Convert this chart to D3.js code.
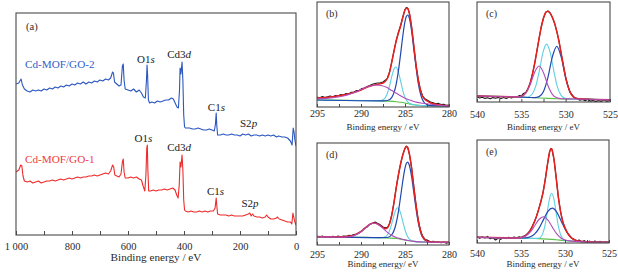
<!DOCTYPE html>
<html><head><meta charset="utf-8">
<script src="https://cdn.jsdelivr.net/npm/d3@7"></script>
<style>body{margin:0;background:#fff}svg{display:block}text{font-family:"Liberation Serif","Times New Roman",serif}</style>
</head><body><svg id="c" width="618" height="273"></svg>
<script>
// ---------------- DATA ----------------
// Survey spectra: [binding energy (eV), intensity (a.u.)]
const surveyGO2 = [[1000,75.5],[990,76],[982,78],[977,75],[970,73],[960,72],[950,71.5],[940,72.5],[930,72],[920,72.5],[910,72],[900,73],[890,72.5],[880,73.5],[870,73],[860,74],[850,73.5],[840,74.5],[830,74],[820,75],[810,74.5],[800,75.5],[790,75],[780,76],[770,75.5],[760,76.5],[750,75.5],[740,76.5],[730,76],[720,77],[710,76.5],[700,77.5],[690,77],[680,78],[670,77.5],[662,78.5],[655,81.5],[652,81],[648,76.5],[640,75.5],[632,74.5],[625,75],[620,84.5],[617,85.5],[614,77.5],[610,73],[600,72.5],[590,72],[580,73],[570,71.5],[560,72.5],[552,71],[545,69],[538,68.5],[534,77.5],[532,85],[530,80],[527,67.5],[523,66],[515,66.5],[505,66],[495,67],[485,66.5],[475,67],[465,67.5],[455,67.5],[445,68.5],[438,68],[430,65.5],[425,64],[420,63.5],[416,72.5],[414,83.5],[411,80.5],[407,86.5],[404,77.5],[401,60],[398,54],[395,53.5],[390,53.5],[380,53.5],[370,53],[360,53],[350,53.5],[340,53],[330,52.5],[320,52.5],[310,53],[300,52.5],[292,52],[288,55],[285,61],[283,55],[280,50],[270,50],[260,50.5],[250,50],[240,50],[230,50.5],[220,50],[210,50],[200,49.5],[190,50.5],[180,50],[170,50.5],[160,49.5],[150,50],[140,50],[130,49.5],[120,50],[110,49.5],[100,50],[90,49.5],[80,50],[70,49],[62,49.5],[50,49],[40,49],[30,48.5],[20,47],[14,45],[10,53.5],[7,51.5],[4,47.5],[0,44.5]];
const surveyGO1 = [[1000,31.5],[990,32.5],[983,35],[979,34.5],[975,29.5],[970,27],[960,26.5],[950,27],[940,26],[930,26.5],[920,27],[910,26],[900,26.5],[890,27],[880,27],[870,27.5],[860,27],[850,27.5],[840,28],[830,27.5],[820,28],[810,28.5],[800,28],[790,28.5],[780,29],[770,28.5],[760,29],[750,29],[740,29.5],[730,29.5],[720,30],[710,29.5],[700,30],[690,30.5],[680,31],[670,30.5],[662,32],[655,35],[651,34],[647,30],[640,29.5],[632,29],[625,30.5],[620,36.5],[617,38],[614,31.5],[610,28.5],[600,28.5],[590,29],[580,28.5],[570,29],[560,28],[552,27.5],[546,24.5],[540,22],[536,30],[533,43.5],[531,45],[529,32.5],[526,22],[520,22],[510,22.5],[500,22],[490,22.5],[480,22.5],[470,23],[460,22.5],[450,23],[440,23.5],[432,22.5],[426,20],[421,18.5],[417,25],[414,36.5],[411,34],[407,40],[404,32.5],[401,17.5],[398,12.5],[395,12],[385,11.5],[375,12],[365,11.5],[355,11.5],[345,12],[335,11.5],[325,12],[315,11.5],[305,12],[295,12],[289,13.5],[285,18.5],[283,15],[280,10.5],[270,10],[260,10],[250,10],[240,9.5],[230,10],[220,9.5],[210,9.5],[200,9.5],[190,9.5],[180,10],[170,10.5],[165,11],[160,9.5],[155,10.5],[150,9.5],[140,9],[130,9],[120,8.5],[110,9],[105,10],[100,9],[90,8],[80,8],[70,8.5],[66,9],[60,8],[50,7.5],[40,7],[30,6.5],[20,6.5],[15,5.5],[11,11],[8,9],[4,6.5],[0,5]];
const surveyTickValues = [0,100,200,300,400,500,600,700,800,900,1000];
const surveyTickLabels = ["0","","200","","400","","600","","800","","1 000"];
const sampleNames = ["Cd-MOF/GO-2","Cd-MOF/GO-1"];

// (b) C1s, Cd-MOF/GO-2
const bData = [[295,10],[294.7,9],[294.4,10.5],[294.1,9.5],[293.8,10.2],[293.5,11],[293.2,10],[292.9,11.5],[292.6,11],[292.3,12.5],[292,12],[291.7,13.5],[291.4,13],[291.1,14.8],[290.8,15],[290.5,16.5],[290.2,16.5],[289.9,18.5],[289.6,19],[289.3,20.5],[289,21.5],[288.7,22.8],[288.4,23.5],[288.1,24],[287.8,24.2],[287.5,25],[287.2,27],[287,29],[286.75,35],[286.5,45.5],[286.25,56],[286,66.5],[285.75,74.5],[285.5,81.5],[285.25,90],[285,97.5],[284.85,99.5],[284.7,99],[284.5,94],[284.25,80],[284,61],[283.75,42],[283.5,28],[283.25,17.5],[283,11],[282.7,8],[282.4,6.5],[282.1,5],[281.8,4.2],[281.5,3.2],[281.2,3.6],[280.9,2.4],[280.6,2.8],[280.3,1.6],[280,2]];
const bFit = [[295,9],[294,9.6],[293,10.5],[292,12],[291,14],[290,17],[289.4,19.5],[288.8,21.3],[288.2,22.5],[287.7,23.5],[287.5,24],[287,28.5],[286.75,35],[286.5,45],[286.25,56],[286,66],[285.75,74],[285.5,81],[285.25,89.5],[285,97],[284.85,98.8],[284.7,98.5],[284.5,93.5],[284.25,80],[284,61.5],[283.75,42.5],[283.5,27.5],[283.25,17],[283,10.5],[282.5,6],[282,3.8],[281,2],[280,1.2]];
const bCC = [[295,7],[288,6.2],[287.5,6.2],[287,6.5],[286.5,9.7],[286,22.9],[285.75,36],[285.5,52.9],[285.25,71],[285,85.6],[284.85,90.5],[284.7,92],[284.5,88.6],[284.25,76],[284,57.8],[283.75,40],[283.5,24.1],[283.25,13.5],[283,7],[282.5,2.2],[282,1.3],[280,1]];
const bCO = [[295,7],[288,6.2],[287.5,7.2],[287,13.8],[286.75,21.3],[286.5,30.6],[286.25,38],[286.05,40],[285.75,34.9],[285.5,25.8],[285.25,16.4],[285,9.6],[284.75,5.6],[284.5,3.7],[284,2.2],[283,1.4],[280,1]];
const bOCO = [[295,8],[294,8.6],[293,9.5],[292,11],[291.3,12.7],[290.5,15.5],[289.7,18.7],[289,21],[288.3,22],[287.6,21.3],[287.1,19.7],[286.5,16.5],[285.8,12.7],[285.3,10.2],[284.8,8],[284.3,6.5],[283.9,5.3],[283,3.8],[282,2.7],[281,1.6],[280,1]];
const bBase = [[295,7],[290,6.5],[288,6.2],[287,5.9],[286,5.3],[285.5,4.7],[285,3.9],[284.5,3],[284,2.2],[283.5,1.7],[283,1.4],[282,1.2],[280,1]];

// (c) O1s, Cd-MOF/GO-2
const cData = [[540,5],[539.7,4],[539.4,4.8],[539.1,3.6],[538.8,4.2],[538.5,3.2],[538.2,4.4],[537.9,3.8],[537.6,4.6],[537.3,3.4],[537,4.5],[536.7,3.6],[536.4,4.8],[536.1,4],[535.8,5.5],[535.5,5],[535.2,6.5],[535,6.2],[534.75,8.5],[534.5,9.5],[534.25,13.5],[534,19],[533.75,28],[533.5,38],[533.25,51],[533,63.5],[532.75,75.5],[532.5,84],[532.25,89.8],[532,91],[531.75,89],[531.5,84.5],[531.25,78.8],[531,70.5],[530.75,60.8],[530.5,48],[530.25,36.3],[530,24.5],[529.75,16.3],[529.5,9.5],[529.25,6.8],[529,4],[528.7,3.5],[528.4,1.8],[528.1,2.6],[527.8,1.2],[527.5,2.8],[527.2,0.8],[526.9,1.6],[526.6,0.2],[526.3,1.5],[526,0.4],[525.7,2.2],[525.4,0.6],[525,1.5]];
const cFit = [[540,6],[538,5.6],[536,5.2],[535.5,5.15],[535,5.8],[534.5,9.1],[534.25,13],[534,19.1],[533.75,27.7],[533.5,38.5],[533.25,50.6],[533,63.4],[532.75,75],[532.5,84],[532.25,89.4],[532,90.7],[531.75,88.9],[531.5,84.7],[531.25,78.6],[531,70.6],[530.75,60.4],[530.5,48.4],[530.25,36],[530,24.7],[529.75,15.9],[529.5,9.9],[529.25,6.3],[529,4.4],[528.5,3.2],[528,2.9],[525,2.2]];
const cP1 = [[540,6],[535,4.9],[534,4.5],[533.5,4.45],[533,5.4],[532.5,10.6],[532,24.7],[531.5,45.2],[531,55.6],[530.5,44.9],[530,24.2],[529.5,9.9],[529,4.4],[528.5,3.2],[528,2.9],[525,2.2]];
const cP2 = [[540,6],[535,4.9],[534.55,4.6],[534.15,5.35],[533.75,8.3],[533.35,16.6],[532.95,32.2],[532.55,49.9],[532.15,57.9],[531.75,49.6],[531.35,31.6],[530.95,15.7],[530.55,7.1],[530.15,4],[529.75,3],[528,2.9],[525,2.2]];
const cP3 = [[540,6],[536,5.2],[535.5,5.15],[535,5.76],[534.5,8.9],[534,17.4],[533.5,29.75],[533,36],[532.5,29.3],[532,16.5],[531.5,7.65],[531,4.2],[530.5,3.3],[529,3],[525,2.2]];
const cBase = [[540,6],[538,5.6],[536,5.2],[535,4.9],[534,4.5],[533,4],[532,3.6],[531,3.3],[530,3.1],[529,3],[527,2.6],[525,2.2]];

// (d) C1s, Cd-MOF/GO-1
const dData = [[295,8.8],[294.7,7.6],[294.4,8.9],[294.1,7.8],[293.8,8.5],[293.5,7.4],[293.2,8.8],[292.9,8],[292.6,8.9],[292.3,7.9],[292,9],[291.7,8.6],[291.4,9.6],[291.1,9.4],[290.8,10.5],[290.5,11],[290.2,12.6],[289.9,13.8],[289.6,16.5],[289.3,18],[289,20.8],[288.7,21.7],[288.4,23],[288.1,21.6],[287.8,20.2],[287.5,18],[287.25,17.2],[287,17.6],[286.75,21.5],[286.5,30.3],[286.25,42.6],[286,57.3],[285.75,70.2],[285.5,81.3],[285.25,90.4],[285,96.8],[284.85,98.9],[284.7,97.6],[284.5,90.8],[284.25,77.3],[284,58.4],[283.75,40.5],[283.5,25.4],[283.25,15],[283,8.9],[282.7,5.4],[282.4,4.6],[282.1,3.2],[281.8,3.8],[281.5,2.6],[281.2,3.1],[280.9,2.2],[280.6,2.9],[280.3,1.8],[280,2.5]];
const dFit = [[295,8.5],[293,8.2],[292,8.3],[291,9.2],[290.5,10.8],[290,13.6],[289.5,17.4],[289,20.6],[288.5,21.9],[288,20.4],[287.75,18.9],[287.5,17.3],[287.25,16.3],[287,17.2],[286.75,21.5],[286.5,30],[286.25,42.5],[286,57],[285.75,70],[285.5,81],[285.25,90],[285,96.5],[284.85,98.5],[284.7,97.5],[284.5,91],[284.25,77],[284,58],[283.75,40],[283.5,25],[283.25,14.5],[283,8.3],[282.5,3.9],[282,3],[280,2.7]];
const dCC = [[295,8.3],[288,7.4],[287,7.5],[286.5,10.25],[286,22],[285.75,33.4],[285.5,48.3],[285.25,64],[285,76.9],[284.85,81.4],[284.7,82.8],[284.5,79.5],[284.25,68.3],[284,52.5],[283.75,36.4],[283.5,22.9],[283.25,13.5],[283,7.9],[282.5,3.7],[282,3],[280,2.7]];
const dCO = [[295,8.3],[288,7.4],[287.78,7.4],[287.28,8.1],[286.78,13.9],[286.53,20.7],[286.28,28.8],[286.03,35.5],[285.83,37.3],[285.53,32.8],[285.28,24.4],[285.03,16],[284.78,9.7],[284.53,6.2],[284.28,4.6],[284,3.6],[283,3],[280,2.7]];
const dOCO = [[295,8.3],[293,8.05],[292,8],[291.5,8.2],[291,8.9],[290.5,10.5],[290,13.3],[289.5,17.1],[289,20.4],[288.5,21.7],[288,20.2],[287.5,16.6],[287,12.6],[286.5,9.5],[286,7.6],[285.5,6.3],[285,5.1],[284.5,4.2],[284,3.6],[283,3],[280,2.7]];
const dBase = [[295,8.3],[290,7.8],[288,7.4],[287,7],[286,6.5],[285.5,5.9],[285,5],[284.5,4.2],[284,3.6],[283.5,3.2],[283,3],[282,2.9],[280,2.7]];

// (e) O1s, Cd-MOF/GO-1
const eData = [[540,6.5],[539.7,4.8],[539.4,6.2],[539.1,5],[538.8,6.6],[538.5,4.2],[538.2,5.5],[537.9,3],[537.6,4.8],[537.3,3.6],[537,5.6],[536.7,4.4],[536.4,5.8],[536.1,4.6],[535.8,5.9],[535.5,5.3],[535.2,6.2],[535,5.4],[534.75,6.8],[534.5,7.6],[534.25,9.6],[534,12.2],[533.75,16.2],[533.5,21],[533.25,26.3],[533,33.6],[532.75,41.4],[532.5,50.2],[532.25,63.3],[532,78],[531.75,91.2],[531.6,94.6],[531.5,94],[531.25,83.5],[531,65.2],[530.75,45.4],[530.5,31.4],[530.25,21.1],[530,15.3],[529.75,10.4],[529.5,7.6],[529.25,4.8],[529,3.9],[528.7,2.1],[528.4,3],[528.1,1],[527.8,2.4],[527.5,0.6],[527.2,1.9],[526.9,0.3],[526.6,2],[526.3,0.8],[526,1.6],[525.7,0.4],[525.4,1.2],[525,0.5]];
const eFit = [[540,5.7],[537,5.2],[536,5],[535.5,5.1],[535,5.5],[534.5,7.2],[534,11.7],[533.5,20.5],[533.25,26.5],[533,33.3],[532.75,41],[532.5,50.5],[532.25,62.9],[532,78.3],[531.75,91],[531.6,94.3],[531.5,93.9],[531.25,83.7],[531,64.9],[530.75,45.7],[530.5,31.1],[530.25,21.4],[530,15],[529.5,7.3],[529,3.5],[528.5,2],[528,1.4],[527,1],[525,0.7]];
const eP1 = [[540,5.7],[535.5,5],[534.94,5],[534.44,5.2],[533.94,6.2],[533.44,9.1],[532.94,14.9],[532.44,23.4],[531.94,31.6],[531.44,34.8],[530.94,30.9],[530.44,22.1],[529.94,13],[529.44,6.6],[528.94,3.2],[528.44,1.9],[527.94,1.4],[525,0.7]];
const eP2 = [[540,5.7],[535,4.9],[533.26,4.6],[533.01,4.8],[532.76,6],[532.51,9.9],[532.26,18.2],[532.01,31.2],[531.76,44.2],[531.51,49.7],[531.26,43.8],[531.01,30.5],[530.76,17.2],[530.51,8.5],[530.26,4.3],[530.01,2.8],[529.76,2.3],[528,1.3],[525,0.7]];
const eP3 = [[540,5.7],[536,5],[535.46,5],[534.96,5.5],[534.46,7],[533.96,10.8],[533.46,17],[532.96,23.5],[532.46,26.3],[531.96,23.1],[531.46,16.1],[530.96,9.3],[530.46,5],[529.96,3],[529.46,2.1],[528,1.3],[525,0.7]];
const eBase = [[540,5.7],[537,5.2],[535,4.9],[534,4.7],[533,4.4],[532,3.9],[531.5,3.6],[531,3.2],[530,2.4],[529,1.7],[528,1.3],[527,1],[525,0.7]];

const c1sTickValues = [295,292.5,290,287.5,285,282.5,280];
const c1sTickLabels = ["295","","290","","285","","280"];
const o1sTickValues = [540,537.5,535,532.5,530,527.5,525];
const o1sTickLabels = ["540","","535","","530","","525"];

// ---------------- DRAWING ----------------
const svg = d3.select("#c");
const COL = {data:"#1a1a1a", fit:"#e8211f", p1:"#2048b0", p2:"#5fd0e0", p3:"#b04cb8", base:"#5cc24a", frame:"#4a4a4a", text:"#2a2a2a"};
let clipId = 0;

function panel(box, xDom, yDom, series, tickVals, tickLabs, o) {
  const x = d3.scaleLinear().domain(xDom).range([box.x0, box.x1]);
  const y = d3.scaleLinear().domain(yDom).range([box.y1, box.y0]);
  const g = svg.append("g");
  const id = "clip" + (clipId++);
  g.append("clipPath").attr("id", id).append("rect")
    .attr("x", box.x0).attr("y", box.y0).attr("width", box.x1 - box.x0).attr("height", box.y1 - box.y0);
  const plot = g.append("g").attr("clip-path", `url(#${id})`);
  series.forEach(s => {
    plot.append("path").datum(s.data)
      .attr("fill", "none").attr("stroke", s.color).attr("stroke-width", s.w)
      .attr("stroke-linejoin", "round")
      .attr("d", d3.line().x(d => x(d[0])).y(d => y(d[1])).curve(s.curve || d3.curveLinear));
  });
  const labMap = new Map(tickVals.map((v, i) => [v, tickLabs[i]]));
  const ax = g.append("g").attr("transform", `translate(0,${box.y1})`)
    .call(d3.axisBottom(x).tickValues(tickVals).tickSizeInner(-o.tick).tickSizeOuter(0)
      .tickFormat(v => labMap.get(v)));
  ax.select(".domain").remove();
  ax.selectAll(".tick line").attr("stroke", COL.frame).attr("stroke-width", 1);
  ax.selectAll(".tick text").attr("y", o.labOff).attr("dy", null)
    .attr("fill", COL.text).style("font-size", o.tickFs + "px")
    .style("font-family", '"Liberation Serif","Times New Roman",serif');
  g.append("rect").attr("x", box.x0).attr("y", box.y0)
    .attr("width", box.x1 - box.x0).attr("height", box.y1 - box.y0)
    .attr("fill", "none").attr("stroke", COL.frame).attr("stroke-width", 1.1);
  g.append("text").attr("x", (box.x0 + box.x1) / 2).attr("y", box.y1 + o.titleOff)
    .attr("text-anchor", "middle").attr("fill", COL.text).style("font-size", o.titleFs + "px")
    .text(o.title);
  g.append("text").attr("x", box.x0 + o.tagDx).attr("y", box.y0 + o.tagDy)
    .attr("fill", COL.text).style("font-size", o.tagFs + "px").text(o.tag);
  return {x, y, g};
}

// Panel (a)
const A = panel({x0:16, x1:296, y0:13, y1:235}, [1000, 0], [0, 111],
  [{data: surveyGO2, color:"#2b57c0", w:1.1}, {data: surveyGO1, color:"#ee2b2b", w:1.1}],
  surveyTickValues, surveyTickLabels,
  {tick:4, labOff:14.5, tickFs:10.5, titleOff:26, titleFs:11.2, title:"Binding energy / eV", tagDx:10, tagDy:17, tagFs:10.5, tag:"(a)"});

function peakLabel(px, py, main, ital, color) {
  const t = A.g.append("text").attr("x", px).attr("y", py).attr("fill", color).style("font-size", "11px");
  t.append("tspan").text(main);
  t.append("tspan").style("font-style", "italic").text(ital);
}
// peak annotations anchored in data coordinates (energy, intensity)
const xA = A.x, yA = A.y;
peakLabel(xA(568), yA(86), "O1", "s", "#1a1a1a");
peakLabel(xA(460), yA(88.5), "Cd3", "d", "#1a1a1a");
peakLabel(xA(315), yA(62), "C1", "s", "#1a1a1a");
peakLabel(xA(200), yA(54), "S2", "p", "#1a1a1a");
peakLabel(xA(577), yA(46.5), "O1", "s", "#1a1a1a");
peakLabel(xA(460), yA(42), "Cd3", "d", "#1a1a1a");
peakLabel(xA(318), yA(20), "C1", "s", "#1a1a1a");
peakLabel(xA(195), yA(14), "S2", "p", "#1a1a1a");
A.g.append("text").attr("x", xA(968)).attr("y", yA(83.5)).attr("fill", "#3160c6").style("font-size", "11.2px").text(sampleNames[0]);
A.g.append("text").attr("x", xA(968)).attr("y", yA(36)).attr("fill", "#f03a3a").style("font-size", "11.2px").text(sampleNames[1]);

function hr(data, fit, p1, p2, p3, base) {
  const sm = d3.curveMonotoneX;
  return [
    {data: data, color: COL.data, w: 1.1},
    {data: base, color: COL.base, w: 1.1, curve: sm},
    {data: p2, color: COL.p2, w: 1.1, curve: sm},
    {data: p1, color: COL.p1, w: 1.2, curve: sm},
    {data: fit, color: COL.fit, w: 1.5, curve: sm},
    {data: p3, color: COL.p3, w: 1.1, curve: sm}
  ];
}
const smallOpts = {tick:3, labOff:10, tickFs:10, titleOff:23, titleFs:9, tagDx:9, tagDy:15, tagFs:10};

panel({x0:317, x1:449, y0:2, y1:107}, [295, 280], [0, 105], hr(bData, bFit, bCC, bCO, bOCO, bBase),
  c1sTickValues, c1sTickLabels, Object.assign({}, smallOpts, {title:"Binding energy / eV", tag:"(b)"}));
panel({x0:477, x1:610, y0:2, y1:102}, [540, 525], [0, 100], hr(cData, cFit, cP1, cP2, cP3, cBase),
  o1sTickValues, o1sTickLabels, Object.assign({}, smallOpts, {labOff:16, titleOff:28, title:"Binding energy / eV", tag:"(c)"}));
panel({x0:317, x1:449, y0:143, y1:245}, [295, 280], [0, 102], hr(dData, dFit, dCC, dCO, dOCO, dBase),
  c1sTickValues, c1sTickLabels, Object.assign({}, smallOpts, {labOff:12.5, titleOff:22, title:"Binding energy/ eV", tag:"(d)"}));
panel({x0:477, x1:609, y0:140, y1:243}, [540, 525], [0, 103], hr(eData, eFit, eP1, eP2, eP3, eBase),
  o1sTickValues, o1sTickLabels, Object.assign({}, smallOpts, {labOff:13.5, titleOff:24, title:"Binding energy / eV", tag:"(e)"}));
</script></body></html>
